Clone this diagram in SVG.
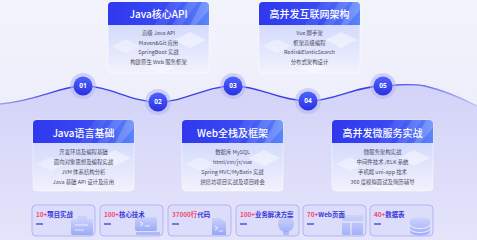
<svg xmlns="http://www.w3.org/2000/svg" width="477" height="240" viewBox="0 0 477 240">
<defs>
<style>
.title{font-family:"Noto Sans CJK SC","Noto Sans",sans-serif;font-size:10px;fill:#fff;text-anchor:middle;font-weight:500}
.item{font-family:"Noto Sans CJK SC","Noto Sans",sans-serif;font-size:5.4px;fill:#4a4a5e;text-anchor:middle}
.num{font-family:"Noto Sans",sans-serif;font-size:6.5px;fill:#fff;text-anchor:middle;font-weight:700}
.stat{font-family:"Noto Sans CJK SC","Noto Sans",sans-serif;font-size:6.4px;font-weight:700;fill:#3636d4}
.red{fill:#f2476c}
.box{fill:#dcdcfb;stroke:#a9aaf3;stroke-width:0.8}
.dash{stroke:#3232d2;stroke-width:1.2}
.ico{fill:url(#icoG)}
.halo{fill:#b4b6f4;opacity:0.55}
.dot{fill:url(#dotG)}
</style>
<linearGradient id="bg" x1="0" y1="0" x2="0" y2="1">
<stop offset="0" stop-color="#f3f3fc"/><stop offset="1" stop-color="#e9e9fb"/>
</linearGradient>
<linearGradient id="under" x1="0" y1="0" x2="0" y2="1">
<stop offset="0" stop-color="#d2d3f8"/><stop offset="0.5" stop-color="#dcdcf9"/><stop offset="1" stop-color="#e4e4fb"/>
</linearGradient>
<linearGradient id="waveG" x1="0" y1="0" x2="1" y2="0">
<stop offset="0" stop-color="#9fa1f2"/><stop offset="0.12" stop-color="#3b3fe6"/><stop offset="0.82" stop-color="#3b3fe6"/><stop offset="1" stop-color="#c2c4f6"/>
</linearGradient>
<linearGradient id="headG" x1="0" y1="0" x2="1" y2="0">
<stop offset="0" stop-color="#3038ee"/><stop offset="0.6" stop-color="#3a4af2"/><stop offset="1" stop-color="#5b86fa"/>
</linearGradient>
<linearGradient id="bodyG" x1="0" y1="0" x2="0" y2="1">
<stop offset="0" stop-color="#c6cffb"/><stop offset="1" stop-color="#f1f2fd"/>
</linearGradient>
<linearGradient id="dotG" x1="0" y1="0" x2="0" y2="1">
<stop offset="0" stop-color="#4d63ff"/><stop offset="1" stop-color="#2a2fe2"/>
</linearGradient>
<linearGradient id="icoG" x1="0" y1="0" x2="0" y2="1">
<stop offset="0" stop-color="#c3cdfc"/><stop offset="1" stop-color="#7f95f5"/>
</linearGradient>
<g id="card">
<rect x="0" y="0" width="101" height="71" rx="4" fill="url(#bodyG)" stroke="#ffffff" stroke-opacity="0.6" stroke-width="0.8"/>
<polygon points="4,44 18,37 32,44 18,51" fill="#ffffff" opacity="0.35"/>
<polygon points="66,38 82,30 98,38 82,46" fill="#ffffff" opacity="0.45"/>
<polygon points="40,66 54,60 68,66 54,71" fill="#ffffff" opacity="0.35"/>
<path d="M0,23 V4 Q0,0 4,0 H97 Q101,0 101,4 V23 Z" fill="url(#headG)"/>
<polygon points="62,0 74,0 58,23 46,23" fill="#ffffff" opacity="0.08"/>
<polygon points="80,0 90,0 74,23 64,23" fill="#ffffff" opacity="0.12"/>
<polygon points="94,0 101,0 101,8 88,23 82,23" fill="#ffffff" opacity="0.18"/>
</g>
</defs>

<rect width="477" height="240" fill="url(#bg)"/>
<path d="M0,104 C40,100 60,86 83,86 C110,86 130,102 158,102 C185,102 205,86 233,86 C260,86 280,101 308,101 C335,101 355,86 383,86 C395,85 410,83 425,86 C450,92 465,100 477,106 V240 H0 Z" fill="url(#under)"/>

<g id="connectors">
<path d="M0,104 C40,100 60,86 83,86 C110,86 130,102 158,102 C185,102 205,86 233,86 C260,86 280,101 308,101 C335,101 355,86 383,86 C395,85 410,83 425,86 C450,92 465,100 477,106" fill="none" stroke="url(#waveG)" stroke-width="1.3"/>
</g>

<g id="node-01"><circle class="halo" cx="83" cy="86" r="13"/><circle class="dot" cx="83" cy="86" r="9.5"/><text class="num" x="83" y="88.4">01</text></g>
<g id="node-02"><circle class="halo" cx="158" cy="102" r="13"/><circle class="dot" cx="158" cy="102" r="9.5"/><text class="num" x="158" y="104.4">02</text></g>
<g id="node-03"><circle class="halo" cx="233" cy="86" r="13"/><circle class="dot" cx="233" cy="86" r="9.5"/><text class="num" x="233" y="88.4">03</text></g>
<g id="node-04"><circle class="halo" cx="308" cy="101" r="13"/><circle class="dot" cx="308" cy="101" r="9.5"/><text class="num" x="308" y="103.4">04</text></g>
<g id="node-05"><circle class="halo" cx="383" cy="86" r="13"/><circle class="dot" cx="383" cy="86" r="9.5"/><text class="num" x="383" y="88.4">05</text></g>

<g id="card-java-api" transform="translate(108,2)">
<use href="#card"/>
<text class="title" x="50.5" y="15.5">Java核心API</text>
<text class="item" x="50.5" y="33">高级 Java API</text>
<text class="item" x="50.5" y="42.5">Maven&amp;Git 应用</text>
<text class="item" x="50.5" y="52">SpringBoot 实战</text>
<text class="item" x="50.5" y="61.5">构建原生 Web 服务框架</text>
</g>
<g id="card-arch" transform="translate(259,2)">
<use href="#card"/>
<text class="title" x="50.5" y="15.5">高并发互联网架构</text>
<text class="item" x="50.5" y="33">Vue 脚手架</text>
<text class="item" x="50.5" y="42.5">框架高级编程</text>
<text class="item" x="50.5" y="52">Redis&amp;ElasticSearch</text>
<text class="item" x="50.5" y="61.5">分布式架构设计</text>
</g>
<g id="card-java-basic" transform="translate(33,120)">
<use href="#card"/>
<text class="title" x="50.5" y="16.5">Java语言基础</text>
<text class="item" x="50.5" y="34">开发环境及编程基础</text>
<text class="item" x="50.5" y="44">面向对象思想及编程实战</text>
<text class="item" x="50.5" y="54">JVM 体系结构分析</text>
<text class="item" x="50.5" y="63.5">Java 基础 API 设计及应用</text>
</g>
<g id="card-web" transform="translate(182,120)">
<use href="#card"/>
<text class="title" x="50.5" y="16.5">Web全栈及框架</text>
<text class="item" x="50.5" y="34">数据库 MySQL</text>
<text class="item" x="50.5" y="44">html/css/js/vue</text>
<text class="item" x="50.5" y="54">Spring MVC/MyBatis 实战</text>
<text class="item" x="50.5" y="63.5">烘焙坊项目实战及项目峰会</text>
</g>
<g id="card-micro" transform="translate(332,120)">
<use href="#card"/>
<text class="title" x="50.5" y="16.5">高并发微服务实战</text>
<text class="item" x="50.5" y="34">微服务架构实战</text>
<text class="item" x="50.5" y="44">中间件技术 /ELK 系统</text>
<text class="item" x="50.5" y="54">手机端 uni-app 技术</text>
<text class="item" x="50.5" y="63.5">360 度模拟面试及简历辅导</text>
</g>

<g id="stat-1" transform="translate(32,205)">
<rect class="box" x="0" y="0" width="63" height="31" rx="4"/>
<rect class="ico" x="39" y="14" width="22" height="16" rx="2" opacity="0.7"/>
<rect x="45" y="11" width="10" height="4" rx="1" fill="#c3cdfc" opacity="0.8"/>
<path d="M43,20 H56 M43,25 H52" stroke="#ffffff" stroke-width="1.2" opacity="0.7"/>
<text class="stat" x="4" y="12"><tspan class="red">10+</tspan>项目实战</text>
<line class="dash" x1="4" y1="19" x2="11" y2="19"/>
</g>
<g id="stat-2" transform="translate(100,205)">
<rect class="box" x="0" y="0" width="63" height="31" rx="4"/>
<rect class="ico" x="35" y="12" width="22" height="14" rx="2" opacity="0.7"/>
<rect x="36" y="27" width="24" height="3" rx="1" fill="#8ea0f6" opacity="0.6"/>
<path d="M40,17 L43,19 L40,21 M45,21 H50" stroke="#ffffff" stroke-width="1" fill="none" opacity="0.8"/>
<text class="stat" x="4" y="12"><tspan class="red">100+</tspan>核心技术</text>
<line class="dash" x1="4" y1="19" x2="11" y2="19"/>
</g>
<g id="stat-3" transform="translate(168,205)">
<rect class="box" x="0" y="0" width="63" height="31" rx="4"/>
<path class="ico" d="M44,13 H53 L58,18 V30 H44 Z" opacity="0.75"/>
<path d="M47,21 L50,23 L47,25 M51,26 H55" stroke="#ffffff" stroke-width="1" fill="none" opacity="0.8"/>
<text class="stat" x="4" y="12"><tspan class="red">37000行</tspan>代码</text>
<line class="dash" x1="4" y1="19" x2="11" y2="19"/>
</g>
<g id="stat-4" transform="translate(236,205)">
<rect class="box" x="0" y="0" width="63" height="31" rx="4"/>
<circle class="ico" cx="50" cy="19" r="8" opacity="0.6"/>
<rect x="47" y="26" width="6" height="4" rx="1" fill="#8ea0f6" opacity="0.6"/>
<text class="stat" x="4" y="12"><tspan class="red">100+</tspan>业务解决方案</text>
<line class="dash" x1="4" y1="19" x2="11" y2="19"/>
</g>
<g id="stat-5" transform="translate(303,205)">
<rect class="box" x="0" y="0" width="63" height="31" rx="4"/>
<rect class="ico" x="39" y="10" width="21" height="20" rx="1" opacity="0.6"/>
<path d="M39,17 H60 M48,17 V30" stroke="#ffffff" stroke-width="1" opacity="0.8"/>
<text class="stat" x="4" y="12"><tspan class="red">70+</tspan>Web页面</text>
<line class="dash" x1="4" y1="19" x2="11" y2="19"/>
</g>
<g id="stat-6" transform="translate(370,205)">
<rect class="box" x="0" y="0" width="63" height="31" rx="4"/>
<path class="ico" d="M40,16 A10,3.5 0 0 1 60,16 V27 A10,3.5 0 0 1 40,27 Z" opacity="0.65"/>
<path d="M40,20 A10,3.5 0 0 0 60,20 M40,24 A10,3.5 0 0 0 60,24" stroke="#ffffff" stroke-width="0.9" fill="none" opacity="0.8"/>
<text class="stat" x="4" y="12"><tspan class="red">40+</tspan>数据表</text>
<line class="dash" x1="4" y1="19" x2="11" y2="19"/>
</g>
</svg>
